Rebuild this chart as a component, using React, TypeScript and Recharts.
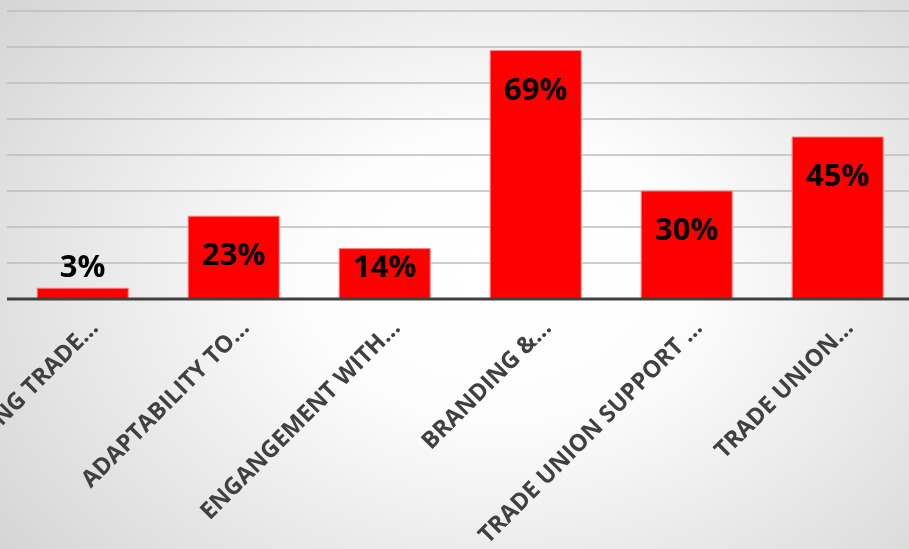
import { BarChart, Bar, XAxis, YAxis, CartesianGrid, LabelList } from 'recharts';

const categories = [
  'EXISTING TRADE…',
  'ADAPTABILITY TO…',
  'ENGANGEMENT WITH…',
  'BRANDING &…',
  'TRADE UNION SUPPORT …',
  'TRADE UNION…',
];
const shares = [3, 23, 14, 69, 30, 45];
const yTicks = [0, 10, 20, 30, 40, 50, 60, 70, 80];

const data = categories.map((name, i) => ({ name, value: shares[i] }));

function CategoryTick(props: any) {
  const { x, y, payload } = props;
  return (
    <text
      transform={`translate(${x + 17},${y + 22}) rotate(-45)`}
      textAnchor="end"
      fill="#404040"
      style={{ fontFamily: '"Open Sans"', fontWeight: 700, fontSize: 23.5 }}
    >
      {payload.value}
    </text>
  );
}

function ValueLabel(props: any) {
  const { x, y, width, height, value } = props;
  let cy = y - 23;
  if (height > 30) cy = Math.min(y + 37, y + height - 34);
  return (
    <text
      x={x + width / 2}
      y={cy}
      textAnchor="middle"
      dominantBaseline="central"
      fill="#000"
      style={{ fontFamily: '"Open Sans"', fontWeight: 700, fontSize: 31 }}
    >
      {value}%
    </text>
  );
}

export default function App() {
  return (
    <div
      style={{
        position: 'fixed',
        left: 0,
        top: 0,
        width: 909,
        height: 549,
        overflow: 'hidden',
        background:
          'radial-gradient(ellipse 70% 85% at 55% 50%, #ffffff 0%, #fdfdfd 30%, #d4d4d4 100%)',
      }}
    >
      <BarChart
        width={913}
        height={549}
        data={data}
        margin={{ top: 11, right: 0, left: 7, bottom: 50 }}
        barCategoryGap="20%"
      >
        <CartesianGrid vertical={false} stroke="#bdbdbd" strokeWidth={1.5} />
        <YAxis hide domain={[0, 80]} ticks={yTicks} />
        <XAxis
          dataKey="name"
          height={200}
          interval={0}
          tickLine={false}
          axisLine={{ stroke: '#404040', strokeWidth: 3 }}
          tick={<CategoryTick />}
        />
        <Bar dataKey="value" fill="#ff0000" stroke="#ff8080" strokeWidth={1} isAnimationActive={false}>
          <LabelList dataKey="value" content={<ValueLabel />} />
        </Bar>
      </BarChart>
    </div>
  );
}
